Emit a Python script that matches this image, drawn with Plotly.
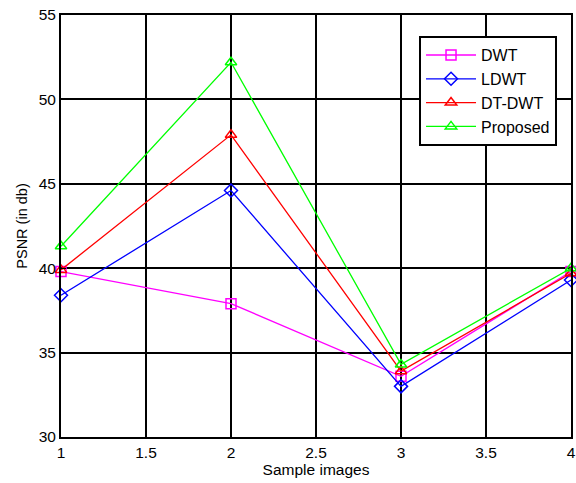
import plotly.graph_objects as go

x_vals = [1, 2, 3, 4]
dwt = [39.8, 37.9, 33.6, 39.8]
ldwt = [38.4, 44.6, 33.0, 39.3]
dtdwt = [39.9, 47.9, 33.9, 39.7]
proposed = [41.3, 52.2, 34.3, 40.0]

series = [
    ("DWT", dwt, "#ff00ff", "square-open"),
    ("LDWT", ldwt, "#0000ff", "diamond-open"),
    ("DT-DWT", dtdwt, "#ff0000", "triangle-up-open"),
    ("Proposed", proposed, "#00ff00", "triangle-up-open"),
]

fig = go.Figure()
for i, (name, vals, col, sym) in enumerate(series):
    fig.add_trace(go.Scatter(
        x=x_vals, y=vals, mode="lines+markers", name=name,
        line=dict(color=col, width=1.3),
        marker=dict(symbol=sym, size=10, color=col, line=dict(color=col, width=1.5)),
        cliponaxis=False,
    ))

font = "Liberation Sans, Arial, sans-serif"
fig.update_layout(
    width=576, height=483,
    margin=dict(l=61, r=5, t=15, b=46),
    paper_bgcolor="white", plot_bgcolor="white",
    font=dict(family=font, size=15, color="#000000"),
    showlegend=True,
    legend=dict(
        x=0.702, y=0.950, xanchor="left", yanchor="top",
        bgcolor="white", bordercolor="black", borderwidth=2,
        font=dict(family=font, size=16, color="#000000"),
        itemwidth=50, tracegroupgap=0,
    ),
    xaxis=dict(
        range=[1, 4], tickvals=[1, 1.5, 2, 2.5, 3, 3.5, 4],
        ticktext=["1", "1.5", "2", "2.5", "3", "3.5", "4"],
        showgrid=True, gridcolor="black", gridwidth=1.5,
        showline=True, linecolor="black", linewidth=2, mirror=True,
        ticks="inside", ticklen=5, tickcolor="black",
        zeroline=False, automargin=False,
        title=dict(text="Sample images", font=dict(size=15.5), standoff=4),
        tickfont=dict(size=15.5),
    ),
    yaxis=dict(
        range=[30, 55], tickvals=[30, 35, 40, 45, 50, 55],
        showgrid=True, gridcolor="black", gridwidth=1.5,
        showline=True, linecolor="black", linewidth=2, mirror=True,
        ticks="inside", ticklen=5, tickcolor="black",
        zeroline=False, automargin=False,
        title=dict(text="PSNR (in db)", font=dict(size=14.5), standoff=8),
        tickfont=dict(size=15.5),
    ),
)

fig.write_html("out.html", config={"displayModeBar": False},
               post_script="document.body.style.margin='0px';")
